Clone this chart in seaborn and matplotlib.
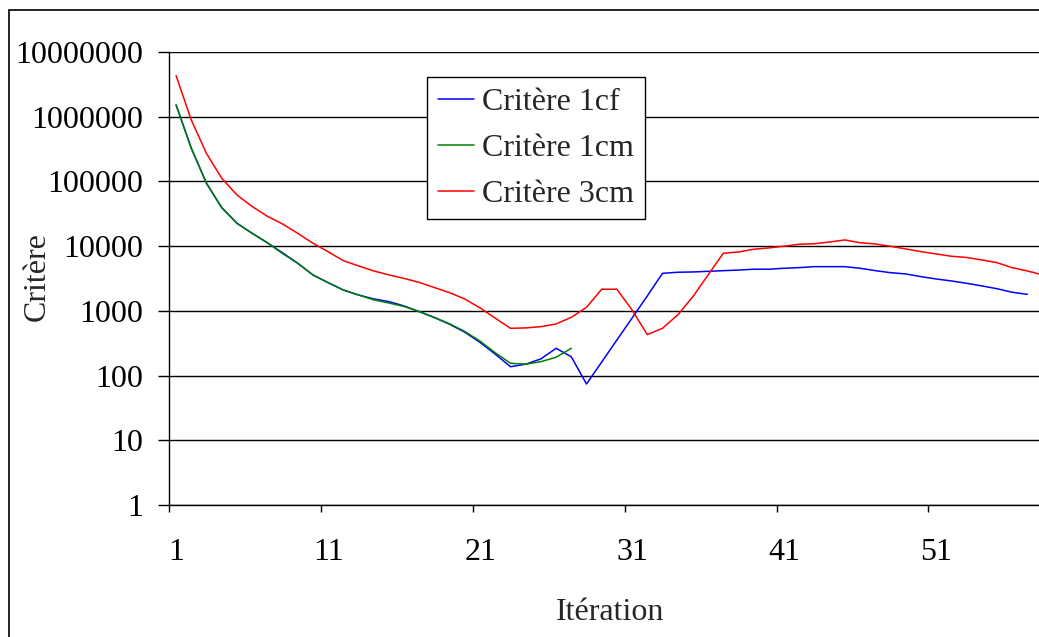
import numpy as np
import pandas as pd
import matplotlib
matplotlib.use("Agg")
import matplotlib.pyplot as plt
import seaborn as sns
from matplotlib.ticker import FixedLocator, FuncFormatter, NullLocator, NullFormatter
from matplotlib.patches import Rectangle

# ---- data ----
crit_1cf = [1.52e6, 3.26e5, 9.35e4, 3.94e4, 2.26e4, 1.58e4, 1.13e4, 7900, 5450, 3590,
            2730, 2100, 1760, 1530, 1390, 1190, 973, 785, 620, 467,
            325, 214, 137, 150, 181, 264, 195, 74, 162, 355,
            776, 1700, 3800, 3950, 3990, 4080, 4180, 4270, 4400, 4400,
            4550, 4660, 4820, 4820, 4820, 4550, 4180, 3890, 3720, 3380,
            3110, 2900, 2670, 2430, 2200, 1940, 1800]
crit_1cm = [1.52e6, 3.26e5, 9.35e4, 3.94e4, 2.26e4, 1.58e4, 1.13e4, 7700, 5450, 3590,
            2730, 2100, 1760, 1480, 1320, 1170, 973, 790, 630, 480,
            340, 225, 155, 150, 164, 192, 264]
crit_3cm = [4.3e6, 8.9e5, 2.7e5, 1.12e5, 6.2e4, 4.1e4, 2.9e4, 2.2e4, 1.58e4, 1.11e4,
            8200, 5970, 4950, 4140, 3590, 3170, 2750, 2290, 1910, 1520,
            1110, 769, 538, 545, 570, 627, 795, 1135, 2160, 2160,
            1030, 429, 538, 864, 1660, 3590, 7770, 8130, 8960, 9380,
            10000, 10700, 10900, 11600, 12470, 11300, 10800, 9950, 9060, 8230,
            7580, 6980, 6690, 6120, 5560, 4650, 4140, 3590]
series_names = ["Critère 1cf", "Critère 1cm", "Critère 3cm"]
series_colors = ["#0000FF", "#008000", "#FF0000"]
y_ticks = [1, 10, 100, 1000, 10000, 100000, 1000000, 10000000]
x_tick_labels = [1, 11, 21, 31, 41, 51]
x_label = "Itération"
y_label = "Critère"

sns.set_theme(style="white")
plt.rcParams['font.family'] = ['Liberation Serif', 'DejaVu Serif']

W, H = 1039, 637
fig = plt.figure(figsize=(W / 100, H / 100), dpi=100)
fig.patch.set_facecolor("white")
left, right, top, bottom = 168.5, 1039, 52, 505
ax = fig.add_axes([left / W, 1 - bottom / H, (right - left) / W, (bottom - top) / H])

frames = []
for name, vals in zip(series_names, [crit_1cf, crit_1cm, crit_3cm]):
    frames.append(pd.DataFrame({"it": np.arange(1, len(vals) + 1), "val": vals, "serie": name}))
df = pd.concat(frames, ignore_index=True)

sns.lineplot(data=df, x="it", y="val", hue="serie", hue_order=series_names,
             palette=dict(zip(series_names, series_colors)), estimator=None,
             linewidth=1.1, ax=ax)

ax.set_yscale("log")
ax.set_ylim(1, 1e7)
cat_w = 15.2
ax.set_xlim(0.5, 0.5 + (right - left) / cat_w)
ax.set_xlabel("")
ax.set_ylabel("")

# y axis
ax.yaxis.set_major_locator(FixedLocator(y_ticks))
ax.yaxis.set_minor_locator(NullLocator())
ax.yaxis.set_major_formatter(FuncFormatter(lambda v, _: f"{int(round(v))}"))
ax.tick_params(axis="y", which="major", left=True, direction="out", length=8,
               width=1, color="black", pad=10, labelsize=23, labelcolor="black")
ax.yaxis.grid(True, color="black", linewidth=1.0)
ax.xaxis.grid(False)
ax.set_axisbelow(True)

# x axis: ticks between categories, labels at category centres
ax.xaxis.set_major_locator(FixedLocator([v - 0.5 for v in x_tick_labels]))
ax.xaxis.set_major_formatter(NullFormatter())
ax.xaxis.set_minor_locator(FixedLocator(x_tick_labels))
ax.xaxis.set_minor_formatter(FuncFormatter(lambda v, _: f"{int(round(v))}"))
ax.tick_params(axis="x", which="major", bottom=True, direction="out", length=5,
               width=1, color="black")
ax.tick_params(axis="x", which="minor", bottom=True, length=0, pad=24,
               labelsize=23, labelcolor="black")

for s in ["top", "right"]:
    ax.spines[s].set_visible(False)
for s in ["left", "bottom"]:
    ax.spines[s].set_color("black")
    ax.spines[s].set_linewidth(1.0)

# legend
handles, labels = ax.get_legend_handles_labels()
leg = ax.legend(handles, labels, loc="upper left", bbox_to_anchor=(427 / W, 1 - 77 / H),
                bbox_transform=fig.transFigure, frameon=True, fancybox=False,
                edgecolor="black", framealpha=1, fontsize=23, handlelength=1.15,
                handletextpad=0.25, labelspacing=0.52, borderpad=0.33, borderaxespad=0)
leg.get_frame().set_linewidth(1.0)
for line in leg.get_lines():
    line.set_linewidth(1.1)

# axis titles
fig.text(610 / W, 1 - 612 / H, x_label, ha="center", va="center", fontsize=23)
fig.text(37 / W, 1 - 277 / H, y_label, rotation=90, ha="center", va="center", fontsize=23)

# outer chart border (cropped on right and bottom)
fig.patches.append(Rectangle((9 / W, -0.05), 2, (1 - 10 / H) + 0.05, transform=fig.transFigure,
                             fill=False, edgecolor="black", linewidth=1.2))

fig.savefig("out.png", dpi=100)
